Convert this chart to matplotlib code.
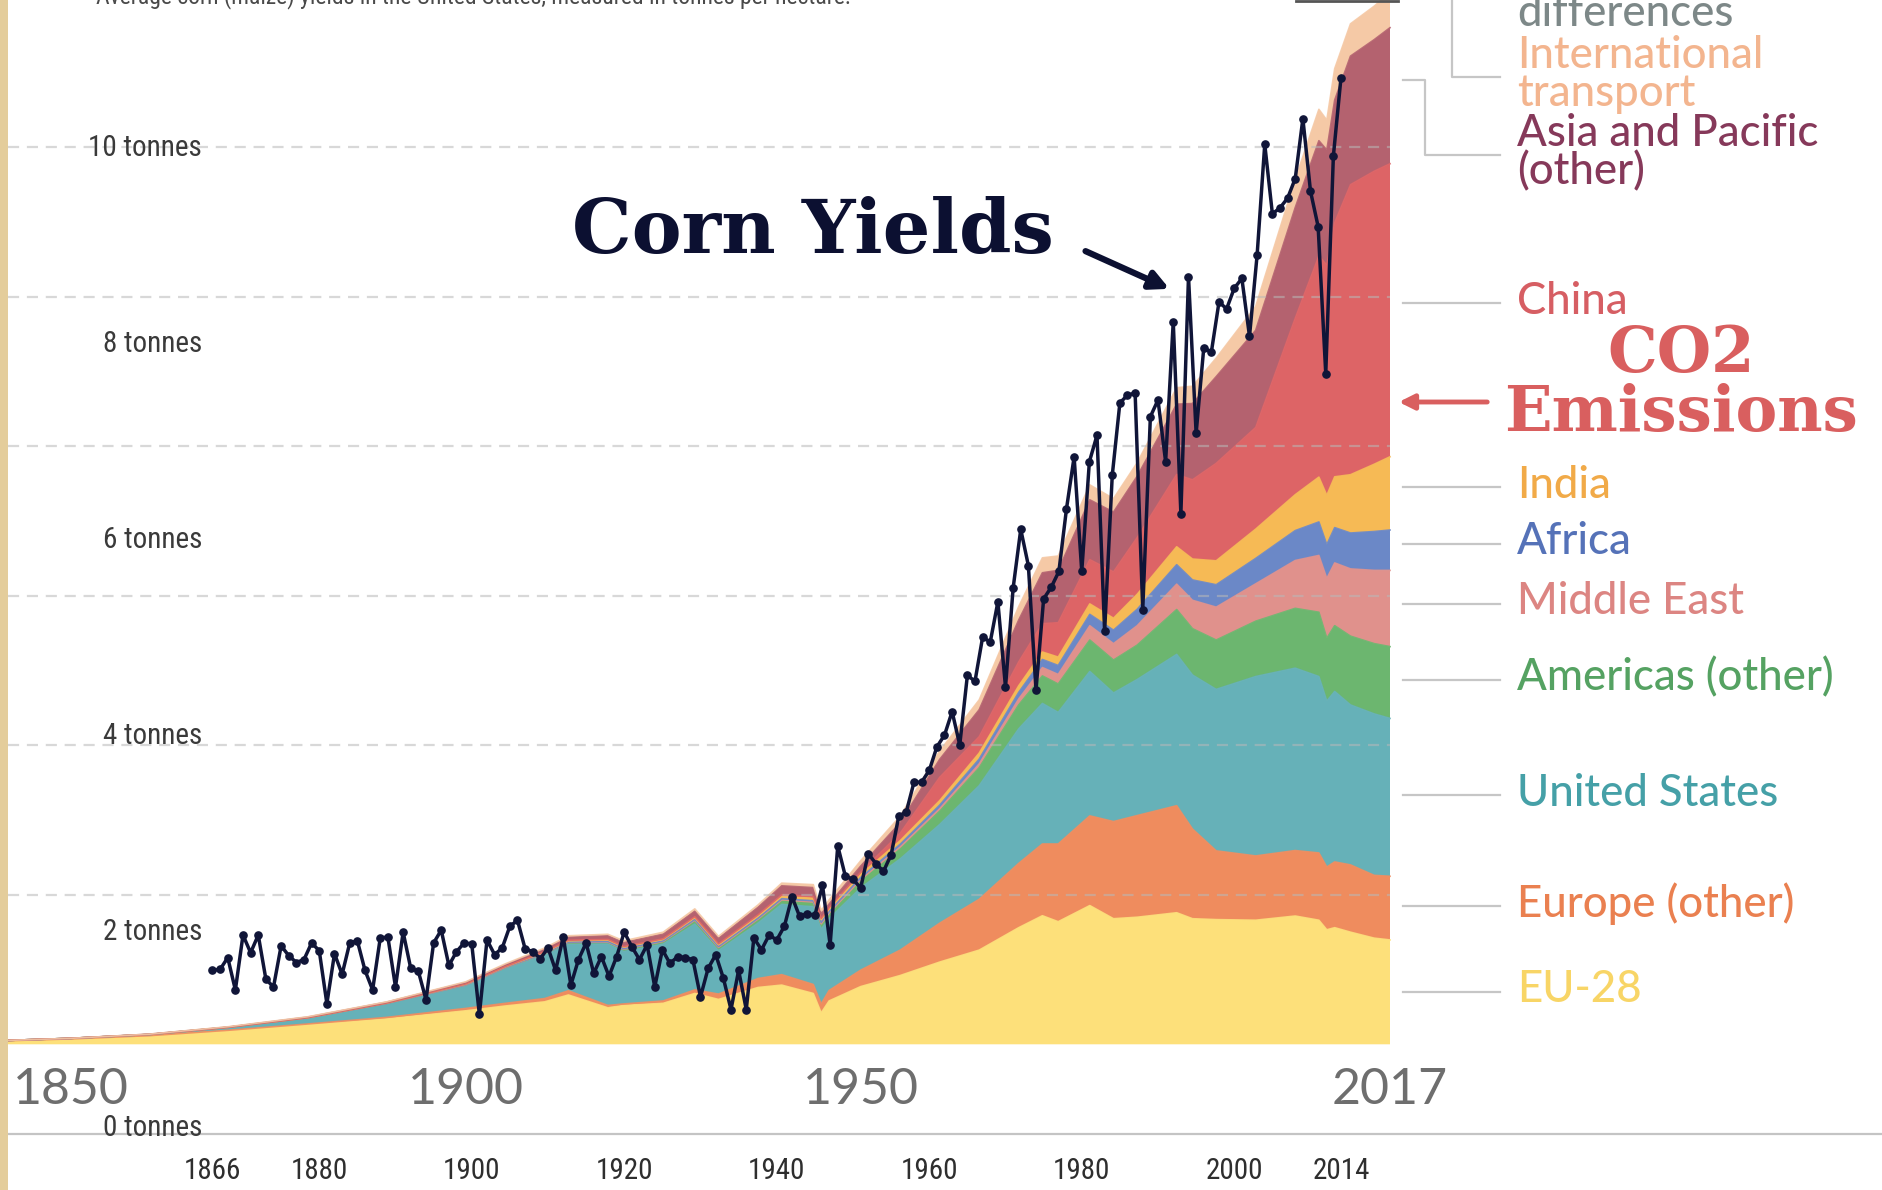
import matplotlib
matplotlib.use("Agg")
import matplotlib.pyplot as plt
from matplotlib import font_manager
from matplotlib.lines import Line2D
from matplotlib.patches import Rectangle

W, H = 1882, 1190

# ---- CO2 emissions by world region, billion tonnes (background chart) ----
co2_years = [1842, 1850, 1860, 1870, 1880, 1890,
             1900, 1905, 1910, 1913, 1918,
             1920, 1925, 1929, 1932, 1937,
             1940, 1944, 1945, 1946, 1950,
             1955, 1960, 1965, 1970, 1973,
             1975, 1979, 1982, 1985, 1990,
             1992, 1995, 2000, 2005, 2008,
             2009, 2010, 2012, 2015, 2017]

eu28 = [0.12, 0.17, 0.28, 0.45, 0.65, 0.85,
        1.12, 1.28, 1.42, 1.65, 1.22,
        1.30, 1.37, 1.70, 1.50, 1.90,
        1.98, 1.70, 1.05, 1.45, 1.93,
        2.30, 2.75, 3.15, 3.90, 4.30,
        4.10, 4.64, 4.20, 4.25, 4.40,
        4.20, 4.17, 4.15, 4.29, 4.15,
        3.83, 3.90, 3.75, 3.55, 3.49]
europe_other = [0.00, 0.01, 0.01, 0.02, 0.03, 0.05,
                0.08, 0.09, 0.11, 0.14, 0.08,
                0.05, 0.08, 0.12, 0.18, 0.30,
                0.35, 0.30, 0.30, 0.35, 0.55,
                0.85, 1.30, 1.70, 2.15, 2.40,
                2.60, 3.00, 3.25, 3.40, 3.58,
                3.00, 2.30, 2.15, 2.19, 2.25,
                2.10, 2.20, 2.25, 2.10, 2.13]
united_states = [0.01, 0.02, 0.04, 0.09, 0.20, 0.45,
                 0.75, 1.15, 1.45, 1.55, 2.05,
                 1.75, 1.90, 2.20, 1.45, 1.85,
                 2.35, 2.60, 2.50, 2.40, 2.75,
                 3.05, 3.30, 3.80, 4.50, 4.70,
                 4.40, 4.83, 4.30, 4.55, 5.06,
                 5.15, 5.40, 6.00, 6.10, 5.90,
                 5.55, 5.70, 5.35, 5.40, 5.28]
americas_other = [0.00, 0.00, 0.00, 0.01, 0.01, 0.02,
                  0.03, 0.04, 0.06, 0.07, 0.07,
                  0.08, 0.09, 0.12, 0.10, 0.13,
                  0.14, 0.15, 0.16, 0.17, 0.25,
                  0.35, 0.45, 0.60, 0.80, 0.92,
                  0.95, 1.05, 1.10, 1.15, 1.50,
                  1.55, 1.65, 1.85, 2.00, 2.15,
                  2.10, 2.20, 2.30, 2.35, 2.40]
middle_east = [0.00, 0.00, 0.00, 0.00, 0.00, 0.00,
               0.00, 0.00, 0.00, 0.00, 0.00,
               0.00, 0.00, 0.01, 0.01, 0.01,
               0.01, 0.01, 0.02, 0.02, 0.03,
               0.05, 0.08, 0.13, 0.20, 0.28,
               0.32, 0.48, 0.55, 0.65, 0.85,
               0.95, 1.10, 1.25, 1.60, 1.90,
               2.00, 2.10, 2.25, 2.45, 2.55]
africa = [0.00, 0.00, 0.00, 0.00, 0.00, 0.00,
          0.01, 0.01, 0.01, 0.01, 0.02,
          0.02, 0.02, 0.03, 0.03, 0.03,
          0.04, 0.04, 0.05, 0.05, 0.07,
          0.09, 0.12, 0.16, 0.22, 0.27,
          0.30, 0.38, 0.45, 0.55, 0.65,
          0.68, 0.75, 0.85, 1.00, 1.12,
          1.13, 1.18, 1.20, 1.30, 1.35]
india = [0.00, 0.00, 0.00, 0.00, 0.00, 0.01,
         0.02, 0.02, 0.03, 0.04, 0.05,
         0.05, 0.05, 0.06, 0.06, 0.07,
         0.08, 0.09, 0.09, 0.09, 0.10,
         0.12, 0.15, 0.20, 0.22, 0.25,
         0.28, 0.35, 0.40, 0.50, 0.60,
         0.70, 0.80, 0.98, 1.20, 1.50,
         1.65, 1.70, 1.95, 2.25, 2.45]
china = [0.00, 0.00, 0.00, 0.00, 0.00, 0.00,
         0.01, 0.01, 0.02, 0.02, 0.02,
         0.02, 0.02, 0.03, 0.03, 0.04,
         0.05, 0.05, 0.04, 0.04, 0.08,
         0.25, 0.78, 0.55, 0.80, 0.95,
         1.15, 1.48, 1.55, 1.90, 2.42,
         2.65, 3.26, 3.40, 5.90, 7.40,
         7.70, 8.50, 9.70, 9.80, 9.80]
asia_pacific_other = [0.00, 0.00, 0.01, 0.01, 0.02, 0.03,
                      0.05, 0.06, 0.08, 0.10, 0.12,
                      0.13, 0.15, 0.18, 0.18, 0.25,
                      0.30, 0.30, 0.15, 0.12, 0.20,
                      0.35, 0.60, 0.90, 1.40, 1.70,
                      1.75, 2.00, 2.00, 2.05, 2.35,
                      2.55, 2.90, 3.25, 3.70, 3.85,
                      3.85, 4.10, 4.30, 4.40, 4.55]
intl_transport = [0.00, 0.00, 0.00, 0.01, 0.01, 0.01,
                  0.02, 0.03, 0.04, 0.05, 0.05,
                  0.06, 0.07, 0.08, 0.07, 0.08,
                  0.09, 0.10, 0.12, 0.14, 0.18,
                  0.22, 0.28, 0.33, 0.45, 0.50,
                  0.48, 0.50, 0.45, 0.45, 0.55,
                  0.58, 0.62, 0.80, 0.95, 1.05,
                  1.00, 1.05, 1.08, 1.12, 1.18]

region_series = [eu28, europe_other, united_states, americas_other, middle_east,
                 africa, india, china, asia_pacific_other, intl_transport]
region_colors = ["#fde07a", "#ef8c5e", "#66b1b8", "#6cb66f", "#e0918c",
                 "#6b88c7", "#f6ba55", "#dd6466", "#b4626f", "#f5c9a6"]
co2_grid = [5, 10, 15, 20, 25, 30]
co2_tick_years = [1850, 1900, 1950, 2017]

# ---- US corn yields, tonnes per hectare (overlay chart) ----
corn_years = list(range(1866, 2015))
corn_yield = [1.67, 1.68, 1.80, 1.47, 2.03, 1.85, 2.03, 1.58, 1.50, 1.92,   # 1866-1875
              1.82, 1.75, 1.78, 1.95, 1.87, 1.33, 1.84, 1.63, 1.95, 1.97,   # 1876-1885
              1.67, 1.47, 2.00, 2.01, 1.50, 2.06, 1.69, 1.66, 1.37, 1.95,   # 1886-1895
              2.08, 1.72, 1.86, 1.95, 1.94, 1.22, 1.98, 1.83, 1.90, 2.12,   # 1896-1905
              2.18, 1.89, 1.86, 1.79, 1.90, 1.67, 2.01, 1.52, 1.78, 1.95,   # 1906-1915
              1.64, 1.81, 1.61, 1.81, 2.06, 1.91, 1.78, 1.93, 1.50, 1.88,   # 1916-1925
              1.74, 1.81, 1.80, 1.78, 1.40, 1.69, 1.83, 1.59, 1.27, 1.67,   # 1926-1935
              1.27, 2.00, 1.88, 2.03, 1.98, 2.12, 2.42, 2.22, 2.25, 2.23,   # 1936-1945
              2.54, 1.93, 2.94, 2.63, 2.60, 2.51, 2.86, 2.76, 2.68, 2.85,   # 1946-1955
              3.24, 3.29, 3.59, 3.59, 3.71, 3.95, 4.07, 4.31, 3.97, 4.68,   # 1956-1965
              4.62, 5.07, 5.02, 5.43, 4.56, 5.57, 6.17, 5.80, 4.53, 5.46,   # 1966-1975
              5.58, 5.74, 6.38, 6.91, 5.74, 6.86, 7.13, 5.13, 6.72, 7.46,   # 1976-1985
              7.54, 7.56, 5.35, 7.32, 7.49, 6.86, 8.29, 6.33, 8.75, 7.15,   # 1986-1995
              8.02, 7.98, 8.49, 8.42, 8.63, 8.73, 8.14, 8.97, 10.10, 9.39,  # 1996-2005
              9.45, 9.55, 9.75, 10.36, 9.62, 9.26, 7.76, 9.98, 10.78]       # 2006-2014
corn_ticks = [0, 2, 4, 6, 8, 10]
corn_tick_years = [1866, 1880, 1900, 1920, 1940, 1960, 1980, 2000, 2014]

legend_lines = [["differences"], ["International", "transport"],
                ["Asia and Pacific", "(other)"], ["China"], ["India"], ["Africa"],
                ["Middle East"], ["Americas (other)"], ["United States"],
                ["Europe (other)"], ["EU-28"]]
legend_colors = ["#7d8888", "#f3b58f", "#86395a", "#d65e63", "#f1aa48", "#5572b8",
                 "#dc8582", "#55a262", "#45a0a7", "#ea8050", "#f8d566"]

# ---- layout (pixel positions in the 1882x1190 canvas, y from top) ----
legend_y = [[14], [55, 94], [133, 172], [301], [485], [542], [602], [678],
            [793], [904], [990]]

fonts = font_manager.fontManager.ttflist
names = {f.name for f in fonts}
NARROW = next((n for n in ["Liberation Sans Narrow", "Roboto Condensed",
                           "Open Sans Condensed"] if n in names), "DejaVu Sans")
LABEL_FONT = "Lato" if "Lato" in names else "DejaVu Sans"
lato_weights = {f.weight for f in fonts if f.name == LABEL_FONT}
LABEL_WEIGHT = next((w for w in (500, 600, "medium", "semibold") if w in lato_weights),
                    "normal")


def fx(x):
    return x / W


def fy(y):
    return 1 - y / H


def limits(v0, p0, v1, p1, size, flip=False):
    """Data limits for a full-canvas axis from two (value, pixel) anchors."""
    s = (p1 - p0) / (v1 - v0)
    a = v0 - p0 / s
    b = v0 + (size - p0) / s
    return (b, a) if flip else (a, b)


fig = plt.figure(figsize=(W / 100, H / 100), dpi=100)
fig.patch.set_facecolor("white")

# background CO2 chart
ax = fig.add_axes([0, 0, 1, 1])
ax.set_xlim(limits(1900, 465.7, 2017, 1390, W))
ax.set_ylim(limits(0, 1044.3, 30, 147.3, H, flip=True))
ax.axis("off")

ax.stackplot(co2_years, *region_series, colors=region_colors,
             edgecolor="none", linewidth=0, zorder=2)
cum = [0.0] * len(co2_years)
for series, col in zip(region_series, region_colors):
    cum = [c + v for c, v in zip(cum, series)]
    ax.plot(co2_years, cum, color=col, lw=1.2, alpha=0.9, zorder=3)

ax.hlines(co2_grid, co2_years[0], co2_years[-1], colors="#b8b8b8",
          linestyles=(0, (5, 3.5)), lw=1.6, alpha=0.55, zorder=4)

for yr in co2_tick_years:
    ax.text(yr, -1.52, str(yr), ha="center", va="center", fontsize=36,
            color="#6e6e6e", family=LABEL_FONT)

# overlay corn yield chart
ax2 = fig.add_axes([0, 0, 1, 1])
ax2.patch.set_alpha(0)
ax2.set_xlim(limits(1866, 212.5, 2014, 1341, W))
ax2.set_ylim(limits(0, 1134, 10, 154, H, flip=True))
ax2.axis("off")

ax2.axhline(0, xmin=fx(8), xmax=1, color="#c4c4c4", lw=1.6, zorder=1)
ax2.plot(corn_years, corn_yield, color="#101538", lw=2.5, marker="o",
         markersize=5.2, zorder=6)

for t in corn_ticks:
    fig.text(fx(202), fy(1134 - 98 * t - 6), f"{t} tonnes", ha="right",
             va="center", fontsize=21, color="#3a3a3a", family=NARROW)
for yr in corn_tick_years:
    ax2.text(yr, -0.38, str(yr), ha="center", va="center", fontsize=21,
             color="#2e2e2e", family=NARROW)

fig.text(fx(96), fy(-3), "Average corn (maize) yields in the United States, "
         "measured in tonnes per hectare.", ha="left", va="center",
         fontsize=17, color="#4a4a4a", family=NARROW)
fig.add_artist(Line2D([fx(1296), fx(1398)], [fy(1), fy(1)],
                      color="#555555", lw=2))

# region labels with leader lines
for lines, ys, col in zip(legend_lines, legend_y, legend_colors):
    for txt, y in zip(lines, ys):
        fig.text(fx(1517), fy(y), txt, ha="left", va="center", fontsize=31.5,
                 color=col, family=LABEL_FONT, fontweight=LABEL_WEIGHT)
leader = dict(color="#c6c6c6", lw=1.6)
fig.add_artist(Line2D([fx(1452), fx(1452), fx(1500)], [fy(0), fy(77), fy(77)], **leader))
fig.add_artist(Line2D([fx(1403), fx(1425), fx(1425), fx(1500)],
                      [fy(80), fy(80), fy(155), fy(155)], **leader))
for ys in legend_y[3:]:
    fig.add_artist(Line2D([fx(1403), fx(1500)], [fy(ys[0] + 2)] * 2, **leader))

# annotations
fig.text(fx(813), fy(232), "Corn Yields", ha="center", va="center",
         fontsize=54, fontweight="bold", color="#0c1031", family="DejaVu Serif")
ax.annotate("", xy=(fx(1172), fy(290)), xytext=(fx(1083), fy(250)),
            xycoords="figure fraction", textcoords="figure fraction",
            arrowprops=dict(arrowstyle="-|>,head_length=1.1,head_width=0.55",
                            color="#0c1031", lw=4.5))
fig.text(fx(1681), fy(354), "CO2", ha="center", va="center", fontsize=45,
         fontweight="bold", color="#d95f5f", family="DejaVu Serif")
fig.text(fx(1681), fy(413), "Emissions", ha="center", va="center", fontsize=45,
         fontweight="bold", color="#d95f5f", family="DejaVu Serif")
ax.annotate("", xy=(fx(1396), fy(402)), xytext=(fx(1490), fy(402)),
            xycoords="figure fraction", textcoords="figure fraction",
            arrowprops=dict(arrowstyle="-|>,head_length=0.9,head_width=0.45",
                            color="#d95f5f", lw=3.5))

# parchment edge on the left
fig.patches.append(Rectangle((0, 0), fx(8), 1, transform=fig.transFigure,
                             facecolor="#e4cd9b", edgecolor="none", zorder=10))

fig.savefig("out.png", dpi=100)
plt.close(fig)
